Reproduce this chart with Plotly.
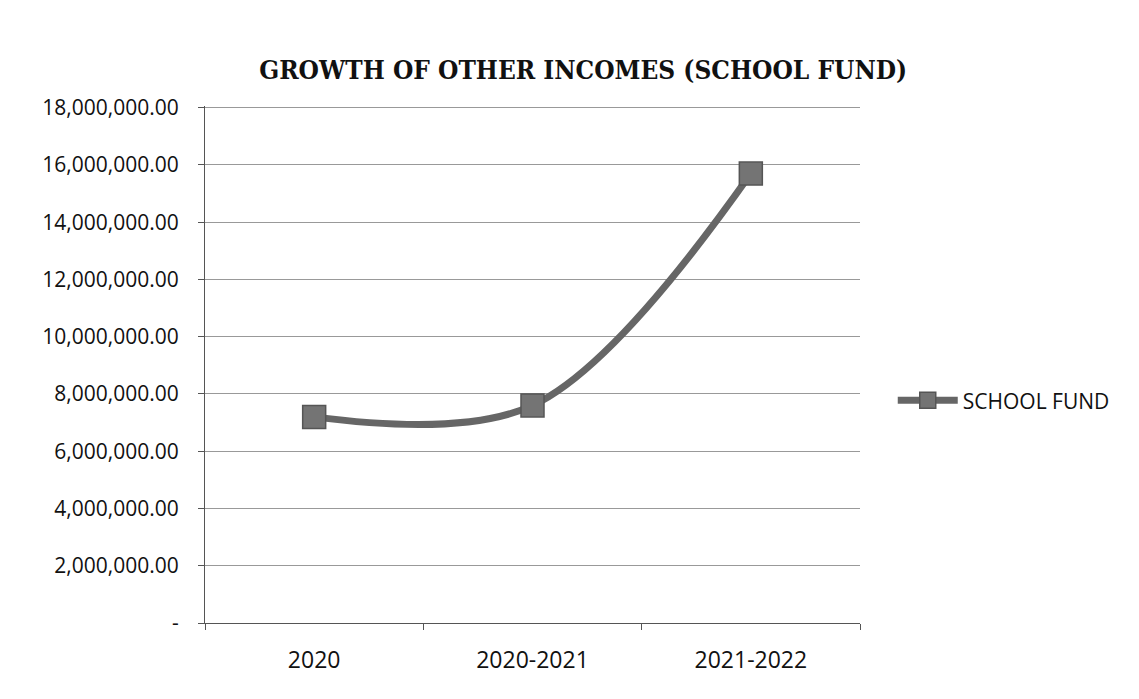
import plotly.graph_objects as go

# School fund income by period
periods = ["2020", "2020-2021", "2021-2022"]
school_fund = [7200000, 7600000, 15700000]

# y-axis ticks (accounting style, zero shown as a dash)
y_ticks = [0, 2000000, 4000000, 6000000, 8000000, 10000000, 12000000, 14000000, 16000000, 18000000]
y_tick_text = ["-"] + [f"{v:,.2f}" for v in y_ticks[1:]]

fig = go.Figure()
fig.add_trace(go.Scatter(
    x=periods,
    y=school_fund,
    name="SCHOOL FUND",
    mode="lines+markers",
    line=dict(color="#666666", width=7, shape="spline", smoothing=1.0),
    marker=dict(symbol="square", size=23, color="#747474",
                line=dict(color="#555555", width=1.5)),
))

fig.update_layout(
    width=1139,
    height=699,
    paper_bgcolor="white",
    plot_bgcolor="white",
    margin=dict(l=205, r=279, t=106, b=76),
    title=dict(
        text="<b>GROWTH OF OTHER INCOMES (SCHOOL FUND)</b>",
        font=dict(family="DejaVu Serif Condensed, DejaVu Serif", size=26, color="#111111"),
        x=0.512, xanchor="center",
        y=0.9, yanchor="middle",
    ),
    showlegend=True,
    legend=dict(
        x=1.05, xanchor="left",
        y=0.43, yanchor="middle",
        font=dict(family="Open Sans, Liberation Sans", size=21, color="#111111"),
        bgcolor="rgba(0,0,0,0)",
        itemwidth=60,
    ),
    font=dict(family="Open Sans, Liberation Sans", size=21, color="#111111"),
)

fig.update_yaxes(
    range=[0, 18060000],
    tickvals=y_ticks,
    ticktext=y_tick_text,
    showgrid=True,
    gridcolor="#999999",
    gridwidth=1,
    showline=True,
    linecolor="#555555",
    linewidth=1,
    ticks="outside",
    ticklen=6,
    tickcolor="#555555",
    zeroline=False,
    tickfont=dict(size=21),
    ticklabelstandoff=15,
)

fig.update_xaxes(
    type="category",
    range=[-0.5, 2.5],
    showgrid=False,
    showline=True,
    linecolor="#555555",
    linewidth=1,
    ticks="outside",
    tickson="boundaries",
    ticklen=6,
    tickcolor="#555555",
    tickfont=dict(size=23),
    ticklabelstandoff=16,
)

fig.write_html("out.html")
